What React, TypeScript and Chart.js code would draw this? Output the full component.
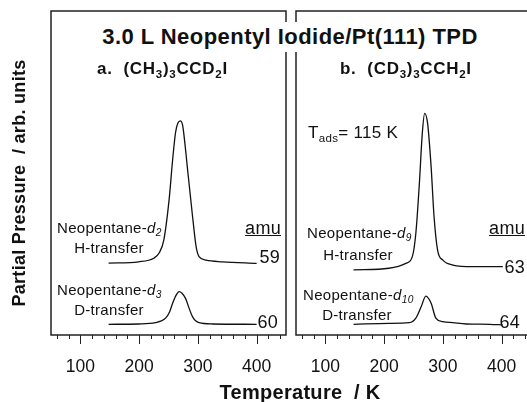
import React, { useEffect, useRef } from 'react';
import { Chart, registerables } from 'chart.js';
Chart.register(...registerables);

// ---- data ----
const majorTicks = [100, 200, 300, 400];
const tickValues = [60, 80, 100, 120, 140, 160, 180, 200, 220, 240, 260, 280, 300, 320, 340, 360, 380, 400, 420, 440];

// panel a: (CH3)3CCD2I
const temps59 = [148, 199, 225, 234, 242, 251, 257, 262, 266, 270, 274, 278, 282, 291, 297, 302, 314, 342, 400];
const amu59 = [22.2, 22.6, 23.7, 25.3, 29.3, 41.7, 54.0, 62.5, 65.4, 66.1, 64.8, 59.0, 51.9, 36.5, 27.3, 24.2, 23.1, 22.6, 22.1];
const temps60 = [148, 199, 228, 245, 252, 257, 263, 268, 273, 279, 285, 291, 302, 325, 400];
const amu60 = [3.3, 3.4, 3.8, 5.2, 7.2, 9.8, 12.3, 13.4, 12.9, 11.3, 8.3, 5.6, 3.8, 3.4, 3.3];

// panel b: (CD3)3CCH2I
const temps63 = [148, 208, 237, 248, 254, 260, 265, 269, 274, 280, 285, 291, 300, 317, 351, 402];
const amu63 = [20.1, 20.6, 22.1, 24.2, 31.4, 46.8, 62.3, 68.4, 65.3, 51.9, 36.5, 26.2, 23.1, 21.6, 21.1, 21.1];
const temps64 = [148, 208, 243, 254, 263, 271, 280, 288, 300, 317, 340, 380, 402];
const amu64 = [3.3, 3.6, 3.8, 5.2, 8.7, 12.0, 9.8, 5.2, 4.1, 3.8, 3.4, 3.3, 3.1];

const FONT = '"Liberation Sans", Arial, Helvetica, sans-serif';

const framePlugin = {
  id: 'frame',
  afterDraw(chart: any) {
    const { ctx, chartArea: a, scales } = chart;
    const x = scales.x;
    ctx.save();
    ctx.strokeStyle = '#222';
    ctx.lineWidth = 1.5;
    ctx.strokeRect(a.left, a.top, a.right - a.left, a.bottom - a.top);
    ctx.lineWidth = 1;
    ctx.strokeStyle = '#222';
    for (const v of tickValues) {
      const px = Math.round(x.getPixelForValue(v)) + 0.5;
      const len = majorTicks.includes(v) ? 9 : 4;
      ctx.beginPath();
      ctx.moveTo(px, a.bottom);
      ctx.lineTo(px, a.bottom + len);
      ctx.stroke();
    }
    ctx.restore();
  },
};

type Series = { t: number[]; v: number[] };

function Panel({ left, width, padL, padR, series }: { left: number; width: number; padL: number; padR: number; series: Series[] }) {
  const ref = useRef<HTMLCanvasElement>(null);
  useEffect(() => {
    const chart = new Chart(ref.current as HTMLCanvasElement, {
      type: 'line',
      data: {
        datasets: series.map((s) => ({
          data: s.t.map((t, i) => ({ x: t, y: s.v[i] })),
          borderColor: '#111',
          borderWidth: 1.3,
          pointRadius: 0,
          cubicInterpolationMode: 'monotone',
          fill: false,
        })),
      } as any,
      options: {
        responsive: false,
        animation: false,
        events: [],
        layout: { padding: { left: padL, right: padR, top: 11, bottom: 0 } },
        plugins: { legend: { display: false }, tooltip: { enabled: false } },
        scales: {
          x: {
            type: 'linear',
            min: 50,
            max: 450,
            afterBuildTicks: (s: any) => {
              s.ticks = majorTicks.map((v) => ({ value: v }));
            },
            afterFit: (s: any) => {
              s.height = 67;
            },
            grid: { display: false },
            border: { display: false },
            ticks: {
              color: '#111',
              font: { family: FONT, size: 17.5 },
              padding: 14,
              autoSkip: false,
              maxRotation: 0,
              callback: (v: any) => String(v),
            },
          },
          y: { display: false, min: 0, max: 100 },
        },
      } as any,
      plugins: [framePlugin],
    });
    return () => chart.destroy();
  }, []);
  return <canvas ref={ref} width={width} height={402} style={{ position: 'absolute', left, top: 0, width, height: 402 }} />;
}

const sub: React.CSSProperties = { fontSize: '0.68em', verticalAlign: '-0.32em', lineHeight: 0 };

function Txt({ x, y, size, bold, align = 'left', children, ls = 0.3, extra }: any) {
  const lh = Math.round(size * 1.3);
  const style: React.CSSProperties = {
    position: 'absolute',
    top: y - lh / 2,
    height: lh,
    lineHeight: lh + 'px',
    fontSize: size,
    fontWeight: bold ? 'bold' : 'normal',
    whiteSpace: 'pre',
    letterSpacing: ls,
    ...extra,
  };
  if (align === 'left') style.left = x;
  else if (align === 'right') style.right = 527 - x;
  else {
    style.left = x - 200;
    style.width = 400;
    style.textAlign = 'center';
  }
  return <div style={style}>{children}</div>;
}

export default function App() {
  return (
    <div style={{ position: 'fixed', left: 0, top: 0, width: 527, height: 402, overflow: 'hidden', background: '#fff', fontFamily: FONT, color: '#111' }}>
      <Panel left={0} width={300} padL={51} padR={14} series={[{ t: temps59, v: amu59 }, { t: temps60, v: amu60 }]} />
      <Panel left={280} width={260} padL={16} padR={9} series={[{ t: temps63, v: amu63 }, { t: temps64, v: amu64 }]} />

      <div style={{ position: 'absolute', left: 95, top: 22, width: 390, height: 30, lineHeight: '30px', background: '#fff', textAlign: 'center', fontWeight: 'bold', fontSize: 22, letterSpacing: 0.45, whiteSpace: 'pre' }}>
        3.0 L Neopentyl Iodide/Pt(111) TPD
      </div>

      <Txt x={97} y={69} size={17} bold ls={0.7}>
        a.  (CH<span style={sub}>3</span>)<span style={sub}>3</span>CCD<span style={sub}>2</span>I
      </Txt>
      <Txt x={340} y={69} size={17} bold ls={0.7}>
        b.  (CD<span style={sub}>3</span>)<span style={sub}>3</span>CCH<span style={sub}>2</span>I
      </Txt>

      <Txt x={57} y={228} size={15}>
        Neopentane-<i>d</i><i style={sub}>2</i>
      </Txt>
      <Txt x={109} y={248} size={15} align="center">H-transfer</Txt>
      <Txt x={281} y={228} size={18} align="right" extra={{ textDecoration: 'underline' }}>amu</Txt>
      <Txt x={280} y={257} size={18} align="right">59</Txt>

      <Txt x={57} y={290} size={15}>
        Neopentane-<i>d</i><i style={sub}>3</i>
      </Txt>
      <Txt x={109} y={310} size={15} align="center">D-transfer</Txt>
      <Txt x={278} y={322} size={18} align="right">60</Txt>

      <Txt x={308} y={133} size={17}>
        T<span style={sub}>ads</span>= 115 K
      </Txt>
      <Txt x={307} y={233} size={15}>
        Neopentane-<i>d</i><i style={sub}>9</i>
      </Txt>
      <Txt x={358} y={255} size={15} align="center">H-transfer</Txt>
      <Txt x={525} y={228} size={18} align="right" extra={{ textDecoration: 'underline' }}>amu</Txt>
      <Txt x={525} y={267} size={18} align="right">63</Txt>

      <Txt x={303} y={295} size={15}>
        Neopentane-<i>d</i><i style={sub}>10</i>
      </Txt>
      <Txt x={357} y={315} size={15} align="center">D-transfer</Txt>
      <Txt x={520} y={322} size={18} align="right">64</Txt>

      <Txt x={300} y={392} size={20} bold align="center">Temperature  / K</Txt>

      <div style={{ position: 'absolute', left: 19 - 150, top: 183 - 12, width: 300, height: 24, lineHeight: '24px', textAlign: 'center', fontWeight: 'bold', fontSize: 18, letterSpacing: 0.3, whiteSpace: 'pre', transform: 'rotate(-90deg)' }}>
        Partial Pressure  / arb. units
      </div>
    </div>
  );
}
